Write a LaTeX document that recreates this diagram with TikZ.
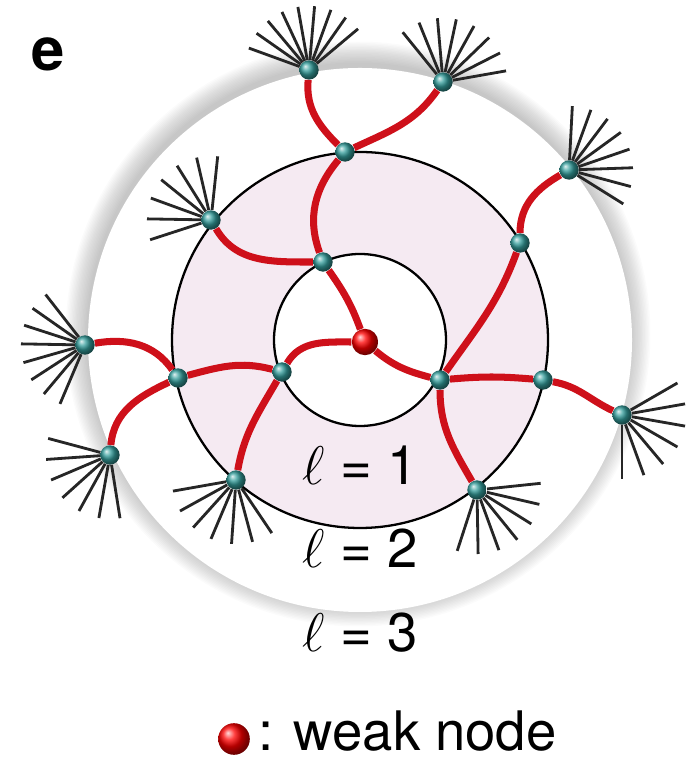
\RequirePackage{fix-cm}
\documentclass[tikz,border=0pt]{standalone}
\usepackage{fontspec}
\setmainfont{TeX Gyre Heros}
\usetikzlibrary{positioning}
\definecolor{ringpink}{RGB}{245,234,242}
\definecolor{linkred}{RGB}{206,16,26}
\definecolor{hubteal}{RGB}{52,158,156}
\tikzset{
  hub/.style={circle, shading=ball, ball color=hubteal, minimum size=11pt, inner sep=0pt},
  weak/.style={circle, shading=ball, ball color=red, minimum size=15pt, inner sep=0pt},
  link/.style={line width=4pt, color=linkred},
  shell/.style={line width=1.3pt, color=black},
  hair/.style={line width=1.6pt, color=black!85},
  level/.style={font=\fontsize{31}{36}\selectfont},
}
\begin{document}
\begin{tikzpicture}[x=0.02cm, y=0.02cm]
  \useasboundingbox (0,0) rectangle (692,763);
  \coordinate (O) at (360,423);

  % shells
  \foreach \i in {1,...,16}
    \fill[black, opacity=0.016] (358,429) circle ({270+\i*1.4});
  \fill[white] (O) circle (272);
  \fill[ringpink] (O) circle (188);
  \fill[white] (O) circle (86);
  \draw[shell] (O) circle (188) (O) circle (86);

  \node (w)  [weak] at (365,421) {};
  \node (a1) [hub]  at (323,501) {};
  \node (a2) [hub]  at (282,391) {};
  \node (a3) [hub]  at (440,383) {};
  \node (b1) [hub]  at (345,611) {};
  \node (b2) [hub]  at (211,543) {};
  \node (b3) [hub]  at (520,520) {};
  \node (b4) [hub]  at (178,385) {};
  \node (b5) [hub]  at (543,383) {};
  \node (b6) [hub]  at (236,283) {};
  \node (b7) [hub]  at (477,273) {};
  \node (c1) [hub]  at (309,693) {};
  \node (c2) [hub]  at (443,681) {};
  \node (c3) [hub]  at (569,593) {};
  \node (c4) [hub]  at (85,418)  {};
  \node (c5) [hub]  at (110,308) {};
  \node (c6) [hub]  at (622,348) {};

  % hairs
  \foreach \n/\a/\b/\z in {c1/40/55/160, c2/10/27/129, c3/-32/-15/87,
      c4/128/145/247, c5/165/184/279, c6/-90/-70/30,
      b2/84/103/198, b6/190/209/304, b7/-108/-89/6}
    \foreach \t in {\a,\b,...,\z}
      \draw[hair] (\n.\t) -- ++(\t:54);

  \draw[link] (w)  to[out=110,in=-55] (a1);
  \draw[link] (w)  to[out=180,in=60]  (a2);
  \draw[link] (w)  to[out=-40,in=165] (a3);
  \draw[link] (a1) to[out=110,in=-130] (b1);
  \draw[link] (b2) to[out=-60,in=180] (a1);
  \draw[link] (b1) to[out=135,in=-95] (c1);
  \draw[link] (b1) to[out=25,in=-125] (c2);
  \draw[link] (a2) to[out=165,in=15]  (b4);
  \draw[link] (a2) to[out=-120,in=80] (b6);
  \draw[link] (b4) to[out=125,in=10]  (c4);
  \draw[link] (b4) to[out=205,in=85]  (c5);
  \draw[link] (a3) to[out=55,in=-110] (b3);
  \draw[link] (b3) to[out=90,in=210]  (c3);
  \draw[link] (a3) to[out=5,in=175]   (b5);
  \draw[link] (a3) to[out=-90,in=120] (b7);
  \draw[link] (b5) to[out=-10,in=155] (c6);

  \node (tag) [font=\fontsize{34}{40}\selectfont\bfseries] at (48,709) {e};
  \node (l1) [level] at (360,298) {$\ell$ = 1};
  \node (l2) [level] at (360,215) {$\ell$ = 2};
  \node (l3) [level] at (360,130) {$\ell$ = 3};
  \node (key) [weak, minimum size=18pt] at (234,24) {};
  \node (keytext) [font=\fontsize{31}{36}\selectfont, anchor=base west, inner sep=0pt] at (258,12) {: weak node};
\end{tikzpicture}
\end{document}
